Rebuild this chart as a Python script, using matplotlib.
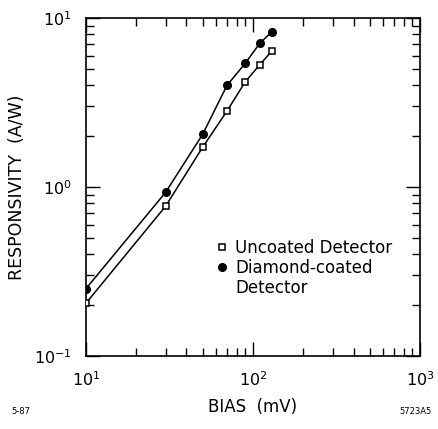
import numpy as np
import matplotlib.pyplot as plt
from matplotlib.lines import Line2D
from matplotlib.ticker import LogLocator, NullFormatter

# bias (mV) and responsivity (A/W)
bias = [10, 30, 50, 70, 90, 110, 130]
resp_uncoated = [0.205, 0.77, 1.72, 2.82, 4.2, 5.3, 6.4]
resp_diamond = [0.25, 0.93, 2.05, 4.0, 5.4, 7.1, 8.3]

fig = plt.figure(figsize=(4.38, 4.29), dpi=100)
ax = fig.add_axes([0.196, 0.170, 0.763, 0.788])

# curves through the points
ax.plot(bias, resp_diamond, color='black', linewidth=1.1, zorder=2)
ax.plot(bias, resp_uncoated, color='black', linewidth=1.1, zorder=2)
sq, = ax.plot(bias, resp_uncoated, linestyle='none', marker='s', markersize=5,
              markerfacecolor='white', markeredgecolor='black', markeredgewidth=1.1,
              zorder=3)
dot, = ax.plot(bias, resp_diamond, linestyle='none', marker='o', markersize=5.5,
               markerfacecolor='black', markeredgecolor='black', zorder=3)

ax.set_xscale('log')
ax.set_yscale('log')
ax.set_xlim(10, 1000)
ax.set_ylim(0.1, 10)

for a in (ax.xaxis, ax.yaxis):
    a.set_major_locator(LogLocator(base=10, numticks=5))
    a.set_minor_locator(LogLocator(base=10, subs=np.arange(2, 10), numticks=10))
    a.set_minor_formatter(NullFormatter())

ax.tick_params(which='both', direction='in', top=True, right=True, width=1.0)
ax.tick_params(which='major', length=10, labelsize=11.5, pad=10)
ax.tick_params(which='minor', length=5.5)
for s in ax.spines.values():
    s.set_linewidth(1.2)

ax.set_xlabel('BIAS  (mV)', fontsize=12, labelpad=7)
ax.set_ylabel('RESPONSIVITY  (A/W)', fontsize=12.5)
ax.yaxis.set_label_coords(-0.18, 0.5)

blank = Line2D([], [], linestyle='none')
leg = ax.legend([sq, dot, blank], ['Uncoated Detector', 'Diamond-coated', 'Detector'],
                loc='upper left', bbox_to_anchor=(0.394, 0.346), frameon=False,
                fontsize=12, handlelength=0.5, handletextpad=0.55,
                labelspacing=0.12, borderaxespad=0, borderpad=0)

fig.text(0.025, 0.035, '5-87', fontsize=6)
fig.text(0.985, 0.035, '5723A5', fontsize=6, ha='right')

fig.savefig('out.png', dpi=100)
